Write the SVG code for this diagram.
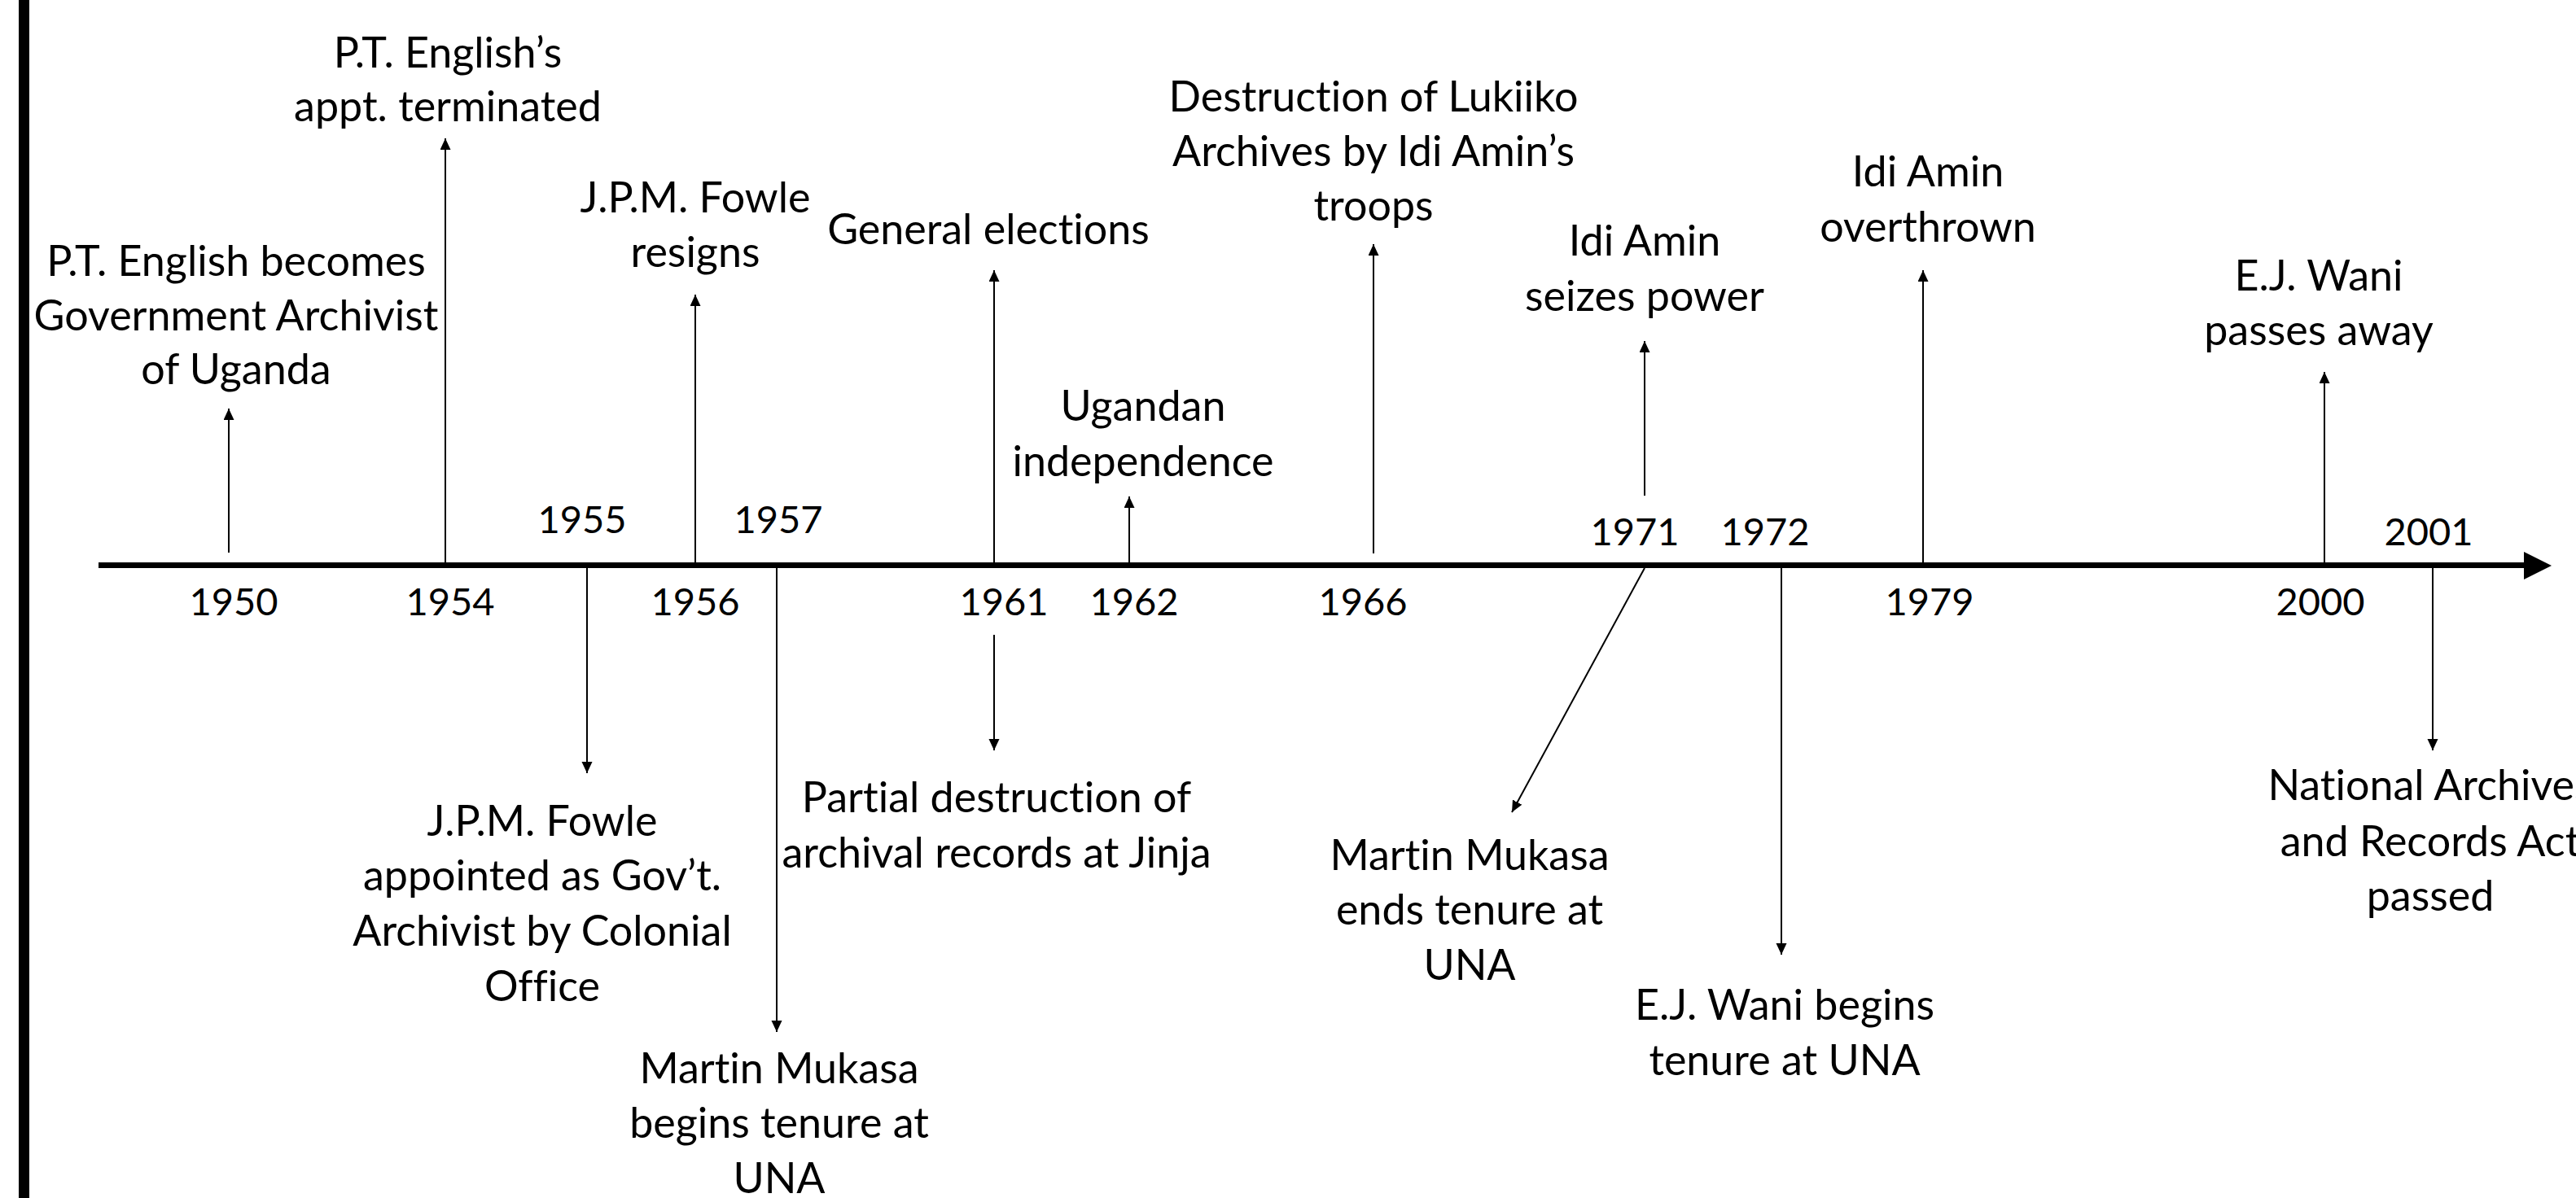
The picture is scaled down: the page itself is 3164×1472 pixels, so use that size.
<svg xmlns="http://www.w3.org/2000/svg" width="3164" height="1472" viewBox="0 0 3164 1472">
<style>
text{font-family:Lato,"Liberation Sans",sans-serif;font-size:52px;fill:#000;text-anchor:middle;font-variant-ligatures:none;font-feature-settings:"liga" 0}
#years text{font-size:47px}
.c{stroke:#000;stroke-width:2;fill:none}
</style>
<defs>
<marker id="ah" markerUnits="userSpaceOnUse" markerWidth="14" markerHeight="14" refX="14" refY="6.5" orient="auto">
<path d="M0,0 L14,6.5 L0,13 z" fill="#000"/>
</marker>
</defs>
<rect width="3164" height="1472" fill="#fff"/>
<rect id="leftbar" x="23" y="0" width="13" height="1472" fill="#000"/>
<g id="axis">
<line x1="121" y1="694.5" x2="3102" y2="694.5" stroke="#000" stroke-width="7"/>
<polygon points="3100,678 3134,695 3100,712" fill="#000"/>
</g>
<g id="connectors">
<line class="c" x1="281" y1="679" x2="281" y2="502" marker-end="url(#ah)"/>
<line class="c" x1="547" y1="691" x2="547" y2="170" marker-end="url(#ah)"/>
<line class="c" x1="721" y1="698" x2="721" y2="950" marker-end="url(#ah)"/>
<line class="c" x1="854" y1="691" x2="854" y2="362" marker-end="url(#ah)"/>
<line class="c" x1="954" y1="698" x2="954" y2="1268" marker-end="url(#ah)"/>
<line class="c" x1="1221" y1="691" x2="1221" y2="332" marker-end="url(#ah)"/>
<line class="c" x1="1221" y1="780" x2="1221" y2="922" marker-end="url(#ah)"/>
<line class="c" x1="1387" y1="691" x2="1387" y2="610" marker-end="url(#ah)"/>
<line class="c" x1="1687" y1="680" x2="1687" y2="300" marker-end="url(#ah)"/>
<line class="c" x1="2020" y1="609" x2="2020" y2="419" marker-end="url(#ah)"/>
<line class="c" x1="2020" y1="698" x2="1857" y2="998" marker-end="url(#ah)"/>
<line class="c" x1="2188" y1="698" x2="2188" y2="1173" marker-end="url(#ah)"/>
<line class="c" x1="2362" y1="691" x2="2362" y2="332" marker-end="url(#ah)"/>
<line class="c" x1="2855" y1="691" x2="2855" y2="457" marker-end="url(#ah)"/>
<line class="c" x1="2988" y1="698" x2="2988" y2="922" marker-end="url(#ah)"/>
</g>
<g id="years">
<text x="287" y="756">1950</text>
<text x="553" y="756">1954</text>
<text x="715" y="655">1955</text>
<text x="854" y="756">1956</text>
<text x="956" y="655">1957</text>
<text x="1233" y="756">1961</text>
<text x="1393" y="756">1962</text>
<text x="1674" y="756">1966</text>
<text x="2008" y="670">1971</text>
<text x="2168" y="670">1972</text>
<text x="2370" y="756">1979</text>
<text x="2850" y="756">2000</text>
<text x="2983" y="670">2001</text>
</g>
<g id="e1950"><text x="290" y="339">P.T. English becomes</text><text x="290" y="406">Government Archivist</text><text x="290" y="472">of Uganda</text></g>
<g id="e1954"><text x="550" y="83">P.T. English’s</text><text x="550" y="149">appt. terminated</text></g>
<g id="e1955"><text x="666" y="1027">J.P.M. Fowle</text><text x="666" y="1094">appointed as Gov’t.</text><text x="666" y="1162">Archivist by Colonial</text><text x="666" y="1230">Office</text></g>
<g id="e1956"><text x="854" y="261">J.P.M. Fowle</text><text x="854" y="328">resigns</text></g>
<g id="e1957"><text x="957" y="1331">Martin Mukasa</text><text x="957" y="1398">begins tenure at</text><text x="957" y="1466">UNA</text></g>
<g id="e1961a"><text x="1214" y="300">General elections</text></g>
<g id="e1961b"><text x="1224" y="998">Partial destruction of</text><text x="1224" y="1066">archival records at Jinja</text></g>
<g id="e1962"><text x="1404" y="517">Ugandan</text><text x="1404" y="585">independence</text></g>
<g id="e1966"><text x="1687" y="137">Destruction of Lukiiko</text><text x="1687" y="204">Archives by Idi Amin’s</text><text x="1687" y="271">troops</text></g>
<g id="e1971a"><text x="2020" y="314">Idi Amin</text><text x="2020" y="382">seizes power</text></g>
<g id="e1971b"><text x="1805" y="1069">Martin Mukasa</text><text x="1805" y="1136">ends tenure at</text><text x="1805" y="1204">UNA</text></g>
<g id="e1972"><text x="2192" y="1253">E.J. Wani begins</text><text x="2192" y="1321">tenure at UNA</text></g>
<g id="e1979"><text x="2368" y="229">Idi Amin</text><text x="2368" y="297">overthrown</text></g>
<g id="e2000"><text x="2848" y="357">E.J. Wani</text><text x="2848" y="424">passes away</text></g>
<g id="e2001"><text x="2985" y="983">National Archives</text><text x="2985" y="1052">and Records Act</text><text x="2985" y="1119">passed</text></g>
</svg>
